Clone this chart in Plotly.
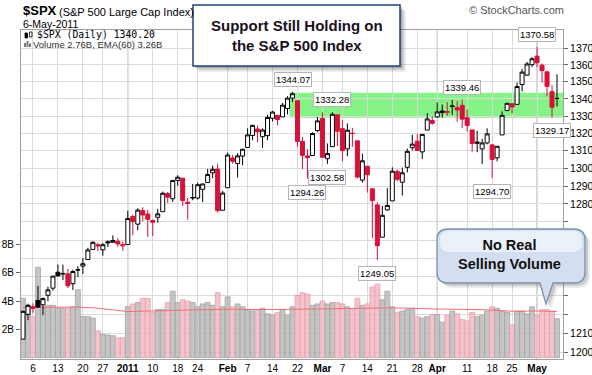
import math
import plotly.graph_objects as go

# ---------------- data ----------------
dates = [
    "2010-12-02", "2010-12-03", "2010-12-06", "2010-12-07", "2010-12-08", "2010-12-09", "2010-12-10",
    "2010-12-13", "2010-12-14", "2010-12-15", "2010-12-16", "2010-12-17", "2010-12-20", "2010-12-21",
    "2010-12-22", "2010-12-23", "2010-12-27", "2010-12-28", "2010-12-29", "2010-12-30", "2010-12-31",
    "2011-01-03", "2011-01-04", "2011-01-05", "2011-01-06", "2011-01-07", "2011-01-10", "2011-01-11",
    "2011-01-12", "2011-01-13", "2011-01-14", "2011-01-18", "2011-01-19", "2011-01-20", "2011-01-21",
    "2011-01-24", "2011-01-25", "2011-01-26", "2011-01-27", "2011-01-28", "2011-01-31",
    "2011-02-01", "2011-02-02", "2011-02-03", "2011-02-04", "2011-02-07", "2011-02-08", "2011-02-09",
    "2011-02-10", "2011-02-11", "2011-02-14", "2011-02-15", "2011-02-16", "2011-02-17", "2011-02-18",
    "2011-02-22", "2011-02-23", "2011-02-24", "2011-02-25", "2011-02-28",
    "2011-03-01", "2011-03-02", "2011-03-03", "2011-03-04", "2011-03-07", "2011-03-08", "2011-03-09",
    "2011-03-10", "2011-03-11", "2011-03-14", "2011-03-15", "2011-03-16", "2011-03-17", "2011-03-18",
    "2011-03-21", "2011-03-22", "2011-03-23", "2011-03-24", "2011-03-25", "2011-03-28", "2011-03-29",
    "2011-03-30", "2011-03-31",
    "2011-04-01", "2011-04-04", "2011-04-05", "2011-04-06", "2011-04-07", "2011-04-08", "2011-04-11",
    "2011-04-12", "2011-04-13", "2011-04-14", "2011-04-15", "2011-04-18", "2011-04-19", "2011-04-20",
    "2011-04-21", "2011-04-25", "2011-04-26", "2011-04-27", "2011-04-28", "2011-04-29",
    "2011-05-02", "2011-05-03", "2011-05-04", "2011-05-05", "2011-05-06",
]

opens = [
    1206.8, 1219.9, 1223.9, 1227.3, 1225.0, 1230.1, 1233.9, 1242.5, 1241.8, 1241.6, 1236.3, 1243.6,
    1245.8, 1249.4, 1254.9, 1257.5, 1254.7, 1259.1, 1258.8, 1259.4, 1256.8,
    1257.6, 1273.0, 1268.8, 1276.3, 1274.4, 1270.8, 1272.6, 1275.7, 1285.8, 1282.9, 1293.2, 1294.5,
    1280.9, 1283.6, 1283.3, 1288.2, 1292.0, 1297.5, 1299.6, 1276.5,
    1289.1, 1305.9, 1302.8, 1307.0, 1311.9, 1318.8, 1322.5, 1318.1, 1318.7, 1328.7, 1330.4, 1329.5,
    1334.4, 1340.4, 1338.9, 1315.4, 1307.1, 1307.3, 1321.6,
    1328.6, 1305.5, 1312.4, 1330.7, 1322.7, 1311.1, 1319.9, 1315.7, 1293.4, 1301.2, 1288.5, 1279.5,
    1261.6, 1276.7, 1281.7, 1298.3, 1292.2, 1300.6, 1311.8, 1315.5, 1309.4, 1321.9, 1327.4,
    1329.5, 1332.0, 1332.0, 1335.9, 1334.8, 1336.2, 1329.0, 1322.0, 1315.0, 1311.1, 1314.5, 1313.4,
    1306.0, 1319.1, 1333.2, 1337.1, 1336.8, 1348.4, 1353.9, 1360.1,
    1365.2, 1359.8, 1355.9, 1344.2, 1340.24,
]

highs = [
    1221.9, 1225.6, 1225.8, 1235.1, 1228.9, 1234.7, 1240.4, 1246.7, 1246.6, 1244.3, 1243.8, 1245.8,
    1250.2, 1255.8, 1259.4, 1258.6, 1258.4, 1259.9, 1262.6, 1261.1, 1259.3,
    1276.2, 1274.1, 1277.6, 1278.2, 1276.8, 1271.5, 1277.3, 1286.9, 1286.7, 1293.2, 1296.1, 1294.6,
    1283.4, 1291.2, 1291.9, 1291.3, 1299.7, 1301.6, 1302.7, 1287.2,
    1308.9, 1307.6, 1308.6, 1311.0, 1322.9, 1324.9, 1324.5, 1322.8, 1330.8, 1333.0, 1330.4, 1337.6,
    1341.5, 1344.07, 1338.9, 1317.9, 1310.9, 1320.6, 1329.4,
    1332.1, 1314.2, 1332.28, 1331.1, 1327.7, 1325.7, 1323.2, 1315.7, 1308.4, 1301.2, 1288.5, 1280.9,
    1278.9, 1288.9, 1300.6, 1299.4, 1300.5, 1311.3, 1319.2, 1319.7, 1319.5, 1331.7, 1329.8,
    1337.9, 1336.7, 1338.2, 1339.4, 1338.8, 1339.46, 1333.8, 1322.0, 1321.4, 1316.8, 1322.9, 1313.4,
    1312.7, 1332.7, 1337.5, 1337.6, 1349.6, 1357.5, 1361.7, 1364.6,
    1370.58, 1360.8, 1355.9, 1348.0, 1354.4,
]

lows = [
    1206.8, 1216.8, 1220.7, 1223.3, 1219.5, 1226.9, 1232.6, 1240.3, 1238.2, 1234.0, 1232.9, 1239.9,
    1241.5, 1249.4, 1254.9, 1254.1, 1251.5, 1256.2, 1258.8, 1256.3, 1254.2,
    1257.6, 1262.7, 1265.4, 1270.4, 1261.7, 1262.2, 1269.6, 1275.7, 1280.5, 1281.1, 1290.2, 1278.9,
    1271.3, 1282.1, 1282.5, 1281.1, 1292.0, 1294.4, 1275.1, 1276.5,
    1289.1, 1302.6, 1294.8, 1301.7, 1311.9, 1316.0, 1314.9, 1311.7, 1316.1, 1326.9, 1324.6, 1329.5,
    1331.0, 1338.1, 1312.3, 1299.6, 1294.26, 1307.3, 1320.6,
    1306.1, 1302.58, 1312.4, 1312.6, 1304.0, 1306.9, 1312.3, 1294.2, 1292.0, 1286.4, 1261.1, 1249.05,
    1261.6, 1276.2, 1281.7, 1292.7, 1284.7, 1297.7, 1310.2, 1310.2, 1305.3, 1321.9, 1325.0,
    1328.9, 1329.1, 1330.0, 1330.7, 1326.6, 1322.9, 1321.1, 1309.5, 1309.2, 1302.4, 1313.7, 1294.70,
    1304.0, 1319.1, 1332.8, 1331.5, 1336.8, 1344.3, 1353.6, 1358.7,
    1358.6, 1349.5, 1341.5, 1329.17, 1335.6,
]

closes = [
    1221.5, 1224.7, 1223.1, 1223.8, 1228.3, 1233.0, 1240.4, 1240.5, 1241.6, 1235.2, 1242.9, 1243.9,
    1247.1, 1254.6, 1258.8, 1256.8, 1257.5, 1258.5, 1259.8, 1257.9, 1257.6,
    1271.9, 1270.2, 1276.6, 1273.9, 1271.5, 1269.8, 1274.5, 1286.0, 1283.8, 1293.2, 1295.0, 1281.9,
    1280.3, 1283.4, 1290.8, 1291.2, 1296.6, 1299.5, 1276.3, 1286.1,
    1307.6, 1304.0, 1307.1, 1310.9, 1319.1, 1324.6, 1320.9, 1321.9, 1329.2, 1332.3, 1328.0, 1336.3,
    1340.4, 1343.0, 1315.4, 1307.4, 1306.1, 1319.9, 1327.2,
    1306.3, 1308.4, 1331.0, 1321.2, 1310.1, 1321.8, 1320.0, 1295.1, 1304.3, 1296.4, 1281.9, 1256.9,
    1273.7, 1279.2, 1298.4, 1293.8, 1297.5, 1309.7, 1313.8, 1310.2, 1319.4, 1328.3, 1325.8,
    1332.4, 1332.9, 1332.6, 1335.5, 1333.5, 1328.2, 1324.5, 1314.2, 1314.4, 1314.5, 1319.7, 1305.1,
    1312.6, 1330.4, 1337.4, 1335.3, 1347.2, 1355.7, 1360.5, 1363.6,
    1361.2, 1356.6, 1347.3, 1335.1, 1340.2,
]

# volume in billions of shares
volumes = [
    4.2, 3.7, 2.9, 6.4, 3.6, 3.7, 3.7, 3.5, 3.5, 3.5, 3.6, 4.8, 2.9, 2.9, 2.8, 1.9, 1.65, 1.6, 1.55, 1.4, 1.4,
    3.6, 3.8, 3.9, 4.2, 4.2, 3.2, 3.4, 3.4, 3.9, 4.7, 3.9, 4.1, 4.0, 3.9, 3.6, 3.8, 3.9, 3.7, 4.6, 3.6,
    4.3, 3.6, 3.8, 3.6, 3.4, 3.3, 3.4, 3.5, 3.1, 3.0, 3.2, 3.4, 3.0, 3.6, 4.4, 4.6, 4.5, 3.7, 3.8,
    4.0, 3.8, 3.9, 3.9, 3.8, 3.6, 3.4, 4.2, 3.7, 3.8, 5.0, 5.2, 4.1, 4.7, 3.6, 3.2, 3.3, 3.4, 3.5, 2.9,
    2.8, 2.9, 3.05,
    3.05, 2.5, 3.0, 3.3, 3.1, 2.7, 2.6, 3.2, 2.9, 3.0, 3.3, 3.6, 3.5, 3.3, 3.2, 2.3, 3.3, 3.3, 3.1, 3.6,
    3.0, 3.4, 3.4, 3.3, 2.76,
]

# EMA(60) of volume, read at weekly points
ema_dates = ["2010-12-02", "2010-12-17", "2010-12-23", "2010-12-31", "2011-01-03", "2011-01-14",
             "2011-01-31", "2011-02-14", "2011-02-28", "2011-03-14", "2011-03-21", "2011-04-01",
             "2011-04-15", "2011-04-25", "2011-05-02", "2011-05-06"]
ema_vals = [3.55, 3.58, 3.50, 3.28, 3.26, 3.34, 3.42, 3.40, 3.44, 3.46, 3.52, 3.44, 3.38, 3.28, 3.30, 3.26]

tick_dates = ["2010-12-06", "2010-12-13", "2010-12-20", "2010-12-27", "2011-01-03", "2011-01-10",
              "2011-01-18", "2011-01-24", "2011-02-01", "2011-02-07", "2011-02-14", "2011-02-22",
              "2011-03-01", "2011-03-07", "2011-03-14", "2011-03-21", "2011-03-28", "2011-04-01",
              "2011-04-11", "2011-04-18", "2011-04-25", "2011-05-02"]
tick_labels = ["6", "13", "20", "27", "<b>2011</b>", "10", "18", "24", "<b>Feb</b>", "7", "14", "22",
               "<b>Mar</b>", "7", "14", "21", "28", "<b>Apr</b>", "11", "18", "25", "<b>May</b>"]
month_starts = ["2011-01-03", "2011-02-01", "2011-03-01", "2011-04-01", "2011-05-02"]

price_ticks = [1200, 1210, 1220, 1230, 1240, 1250, 1260, 1270, 1280, 1290, 1300, 1310, 1320, 1330,
               1340, 1350, 1360, 1370]
price_tick_text = ["1200", "1210", "", "", "", "", "", "", "1280", "1290", "1300", "1310", "1320",
                   "1330", "1340", "1350", "1360", "1370"]
vol_ticks = [2, 4, 6, 8]
vol_tick_text = ["2B", "4B", "6B", "8B"]

# labelled swing points: (date, which price)
swing_points = [("2011-02-18", "high"), ("2011-03-03", "high"), ("2011-04-08", "high"),
                ("2011-05-02", "high"), ("2011-02-24", "low"), ("2011-03-02", "low"),
                ("2011-03-16", "low"), ("2011-04-18", "low"), ("2011-05-05", "low")]
support_low, support_high = 1329.0, 1343.5
support_start = "2011-02-18"

# ---------------- styling / geometry ----------------
W, H = 592, 375
L, R, T, B = 21, 563, 30, 359
RED = "#d8103a"
GREY_F, GREY_L = "#bcbcbc", "#8e8e8e"
PINK_F, PINK_L = "#f3b9c3", "#e08c9e"
FONT = "Liberation Sans, Arial, sans-serif"


def PX(px):
    return (px - L) / (R - L)


def PY(py):
    return (B - py) / (B - T)


n = len(dates)
prev = [opens[0]] + closes[:-1]
is_up = [c >= p for c, p in zip(closes, prev)]
up_idx = [i for i in range(n) if is_up[i]]
dn_idx = [i for i in range(n) if not is_up[i]]


def pick(arr, idx):
    return [arr[i] for i in idx]


fig = go.Figure()

fig.add_trace(go.Bar(
    x=dates, y=volumes, yaxis="y",
    marker=dict(color=[GREY_F if u else PINK_F for u in is_up],
                line=dict(color=[GREY_L if u else PINK_L for u in is_up], width=0.7)),
    opacity=0.85, hoverinfo="skip"))

fig.add_trace(go.Scatter(x=ema_dates, y=ema_vals, yaxis="y", mode="lines",
                         line=dict(color="#f07070", width=1), hoverinfo="skip"))

fig.add_trace(go.Candlestick(
    x=pick(dates, up_idx), open=pick(opens, up_idx), high=pick(highs, up_idx),
    low=pick(lows, up_idx), close=pick(closes, up_idx), yaxis="y2",
    increasing=dict(line=dict(color="black", width=1), fillcolor="white"),
    decreasing=dict(line=dict(color="black", width=1), fillcolor="black"),
    whiskerwidth=0, hoverinfo="skip"))

fig.add_trace(go.Candlestick(
    x=pick(dates, dn_idx), open=pick(opens, dn_idx), high=pick(highs, dn_idx),
    low=pick(lows, dn_idx), close=pick(closes, dn_idx), yaxis="y2",
    increasing=dict(line=dict(color=RED, width=1), fillcolor="white"),
    decreasing=dict(line=dict(color=RED, width=1), fillcolor=RED),
    whiskerwidth=0, hoverinfo="skip"))

shapes = []
# support band
shapes.append(dict(type="rect", xref="x", yref="y2", x0=dates.index(support_start) - 0.6,
                   x1=n + 3, y0=support_low, y1=support_high, fillcolor="#86f386",
                   line=dict(width=0), layer="below"))
# darker month separators
for d in month_starts:
    k = dates.index(d)
    shapes.append(dict(type="line", xref="x", yref="paper", x0=k, x1=k, y0=0, y1=1,
                       line=dict(color="#a9a9a9", width=1), layer="between"))

# title box with shadow
for off, op in [(6, 0.10), (4, 0.18), (2, 0.25)]:
    shapes.append(dict(type="rect", xref="paper", yref="paper",
                       x0=PX(193 + off), x1=PX(400 + off), y0=PY(66 + off), y1=PY(5 + off),
                       fillcolor=f"rgba(60,60,60,{op})", line=dict(width=0), layer="above"))
shapes.append(dict(type="rect", xref="paper", yref="paper", x0=PX(193), x1=PX(400),
                   y0=PY(66), y1=PY(5), fillcolor="white",
                   line=dict(color="#23407a", width=1.5), layer="above"))


def bubble_path(x0, y0, x1, y1, r, tail=None, dx=0, dy=0):
    x0 += dx; x1 += dx; y0 += dy; y1 += dy
    def p(x, y):
        return f"{PX(x):.5f},{PY(y):.5f}"
    s = f"M {p(x0 + r, y0)} L {p(x1 - r, y0)} Q {p(x1, y0)} {p(x1, y0 + r)} "
    s += f"L {p(x1, y1 - r)} Q {p(x1, y1)} {p(x1 - r, y1)} "
    if tail:
        ta, tip_x, tip_y, tb = tail
        s += f"L {p(tb + dx, y1)} L {p(tip_x + dx, tip_y + dy)} L {p(ta + dx, y1)} "
    s += f"L {p(x0 + r, y1)} Q {p(x0, y1)} {p(x0, y1 - r)} "
    s += f"L {p(x0, y0 + r)} Q {p(x0, y0)} {p(x0 + r, y0)} Z"
    return s


tail = (540, 546, 304, 553)
for off, op in [(5, 0.10), (3, 0.18)]:
    shapes.append(dict(type="path", xref="paper", yref="paper",
                       path=bubble_path(437, 229, 585, 283, 11, tail, off, off),
                       fillcolor=f"rgba(60,60,60,{op})", line=dict(width=0), layer="above"))
shapes.append(dict(type="path", xref="paper", yref="paper",
                   path=bubble_path(437, 229, 585, 283, 11, tail),
                   fillcolor="#d3dff0", line=dict(color="#7f90ab", width=1.3), layer="above"))
shapes.append(dict(type="path", xref="paper", yref="paper",
                   path=bubble_path(440, 231, 582, 252, 9),
                   fillcolor="rgba(255,255,255,0.55)", line=dict(width=0), layer="above"))

# legend icons
shapes.append(dict(type="rect", xref="paper", yref="paper", x0=PX(25), x1=PX(27.5), y0=PY(38), y1=PY(33),
                   fillcolor="black", line=dict(color="black", width=0.8), layer="above"))
shapes.append(dict(type="rect", xref="paper", yref="paper", x0=PX(29.5), x1=PX(32), y0=PY(37), y1=PY(32),
                   fillcolor="white", line=dict(color="black", width=0.8), layer="above"))
for bx, bh in [(24, 4), (26.5, 6), (29, 3.5)]:
    shapes.append(dict(type="rect", xref="paper", yref="paper", x0=PX(bx), x1=PX(bx + 2), y0=PY(47),
                       y1=PY(47 - bh), fillcolor="#777", line=dict(width=0), layer="above"))

annotations = []


def txt(text, px, py, size, xanchor="left", bold=False, color="black", family=FONT, yanchor="middle"):
    annotations.append(dict(text=f"<b>{text}</b>" if bold else text, x=PX(px), y=PY(py),
                            xref="paper", yref="paper", xanchor=xanchor, yanchor=yanchor,
                            showarrow=False, font=dict(size=size, color=color, family=family)))


txt("$SPX", 21, 11, 13, bold=True)
txt("(S&P 500 Large Cap Index)", 57, 11.5, 11)
txt("6-May-2011", 21, 24, 10.5)
txt("© StockCharts.com", 566, 10, 11, xanchor="right", color="#555555")
txt("$SPX (Daily) 1340.20", 35, 35, 9.8, family="DejaVu Sans Mono, monospace")
txt("Volume 2.76B, EMA(60) 3.26B", 31, 44.5, 9.5, color="#333333")
annotations.append(dict(text="<b>Support Still Holding on<br>the S&P 500 Index</b>",
                        x=PX(296.5), y=PY(35.5), xref="paper", yref="paper", showarrow=False,
                        xanchor="center", yanchor="middle",
                        font=dict(size=15, color="#1a1020", family=FONT), align="center"))
annotations.append(dict(text="<b>No Real<br>Selling Volume</b>",
                        x=PX(509), y=PY(255), xref="paper", yref="paper", showarrow=False,
                        xanchor="center", yanchor="middle",
                        font=dict(size=14.5, color="#111111", family=FONT), align="center"))

for d, which in swing_points:
    k = dates.index(d)
    val = highs[k] if which == "high" else lows[k]
    annotations.append(dict(
        text=f"{val:.2f}", x=d, y=math.log10(val), xref="x", yref="y2", showarrow=False,
        xanchor="center",
        yanchor="bottom" if which == "high" else "top", yshift=5 if which == "high" else -6,
        bgcolor="white", bordercolor="#b5b5b5", borderwidth=1, borderpad=1,
        font=dict(size=9.5, color="black", family=FONT)))

fig.update_layout(
    width=W, height=H, margin=dict(l=L, r=W - R, t=T, b=H - B, pad=0, autoexpand=False),
    paper_bgcolor="white", plot_bgcolor="white", showlegend=False,
    bargap=0, boxgap=0.2, boxgroupgap=0,
    font=dict(family=FONT, size=10, color="black"),
    xaxis=dict(type="category", categoryorder="array", categoryarray=dates, automargin=False,
               range=[-0.4, n + 0.2], tickmode="array", tickvals=tick_dates, ticktext=tick_labels,
               showgrid=True, gridcolor="#dadada", gridwidth=1, showline=True, linecolor="#a0a0a0",
               mirror=True, ticks="", tickfont=dict(size=10), rangeslider=dict(visible=False)),
    yaxis=dict(range=[-0.1, 23.2], tickmode="array", tickvals=vol_ticks, ticktext=vol_tick_text,
               side="left", showgrid=False, zeroline=False, ticks="outside", ticklen=4, automargin=False,
               tickcolor="#666", showline=True, linecolor="#a0a0a0", tickfont=dict(size=10)),
    yaxis2=dict(type="log", range=[math.log10(1196.4), math.log10(1380.8)], overlaying="y",
                side="right", tickmode="array", tickvals=price_ticks, ticktext=price_tick_text,
                showgrid=True, gridcolor="#dadada", zeroline=False, ticks="outside", ticklen=4,
                automargin=False,
                tickcolor="#666", showline=True, linecolor="#a0a0a0", tickfont=dict(size=10.5)),
    shapes=shapes, annotations=annotations,
)

fig.write_html("out.html", config={"displayModeBar": False, "staticPlot": True},
               post_script="document.body.style.margin='0';document.body.style.overflow='hidden';")
